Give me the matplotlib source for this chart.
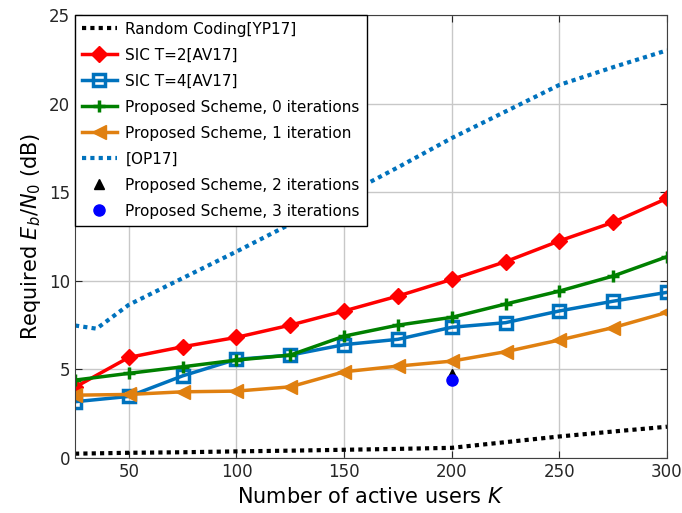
import matplotlib
matplotlib.use('Agg')
import matplotlib.pyplot as plt
import numpy as np

# values
K = [25, 50, 75, 100, 125, 150, 175, 200, 225, 250, 275, 300]
random_coding = [0.25, 0.3, 0.33, 0.38, 0.42, 0.47, 0.52, 0.58, 0.9, 1.22, 1.5, 1.77]
sic_t2 = [4.0, 5.68, 6.28, 6.81, 7.5, 8.3, 9.14, 10.08, 11.08, 12.25, 13.3, 14.65]
sic_t4 = [3.18, 3.48, 4.64, 5.57, 5.81, 6.4, 6.7, 7.38, 7.64, 8.3, 8.85, 9.35]
prop_0 = [4.4, 4.78, 5.15, 5.53, 5.81, 6.88, 7.5, 7.94, 8.69, 9.42, 10.27, 11.36]
prop_1 = [3.55, 3.59, 3.74, 3.78, 4.02, 4.87, 5.19, 5.47, 6.0, 6.66, 7.36, 8.22]
K_op = [25, 35, 50, 75, 100, 125, 150, 175, 200, 225, 250, 275, 300]
op17 = [7.48, 7.3, 8.65, 10.15, 11.65, 13.2, 14.8, 16.4, 18.05, 19.55, 21.05, 22.05, 23.0]
K_it = [200]
prop_2 = [4.75]
prop_3 = [4.42]

plt.rcParams['font.family'] = 'DejaVu Sans'
plt.rcParams['mathtext.fontset'] = 'dejavusans'

fig = plt.figure(figsize=(6.82, 5.13), dpi=100)
ax = fig.add_axes([0.110, 0.107, 0.868, 0.864])

orange = '#e08010'
mblue = '#0072bd'
ax.plot(K, random_coding, color='black', ls=(0, (1, 1)), lw=3, label='Random Coding[YP17]')
ax.plot(K, sic_t2, color='red', lw=2.5, marker='D', ms=8, label='SIC T=2[AV17]')
ax.plot(K, sic_t4, color=mblue, lw=2.5, marker='s', ms=9, mfc='none', mew=2.5, label='SIC T=4[AV17]')
ax.plot(K, prop_0, color='green', lw=2.5, marker='+', ms=9, mew=2.5, label='Proposed Scheme, 0 iterations')
ax.plot(K, prop_1, color=orange, lw=2.5, marker='<', ms=10, label='Proposed Scheme, 1 iteration')
ax.plot(K_op, op17, color=mblue, ls=(0, (1, 1)), lw=3, label='[OP17]')
ax.plot(K_it, prop_2, ls='none', color='black', marker='^', ms=7, label='Proposed Scheme, 2 iterations')
ax.plot(K_it, prop_3, ls='none', color='blue', marker='o', ms=8, label='Proposed Scheme, 3 iterations')

ax.set_xlim(25, 300)
ax.set_ylim(0, 25)
ax.set_xticks([50, 100, 150, 200, 250, 300])
ax.set_yticks([0, 5, 10, 15, 20, 25])
ax.grid(True, color='#c8c8c8', lw=1)
ax.set_axisbelow(True)
ax.tick_params(direction='in', top=True, right=True, labelsize=12, length=5, colors='#262626')
for s in ax.spines.values():
    s.set_color('#404040')
ax.set_xlabel('Number of active users $K$', fontsize=15)
ax.set_ylabel('Required $E_b/N_0$ (dB)', fontsize=15)

leg = ax.legend(loc='upper left', fontsize=11, frameon=True, fancybox=False,
                edgecolor='black', framealpha=1, borderaxespad=0,
                handlelength=2.3, handletextpad=0.55, labelspacing=0.72, borderpad=0.45)
leg.get_frame().set_linewidth(1)

plt.savefig('out.png', dpi=100)
